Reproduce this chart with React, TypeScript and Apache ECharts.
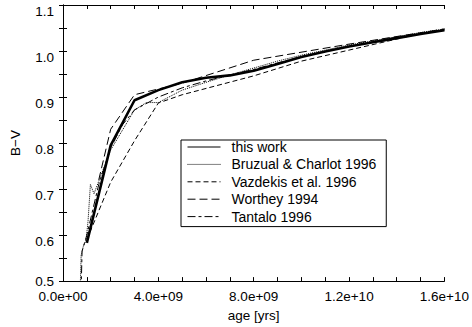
import React, { useEffect, useRef } from "react";
import * as echarts from "echarts";

// ages in Gyr, colours B-V
const thisWorkAge = [1, 2, 3, 4, 5, 6, 7, 8, 9, 10, 11, 12, 13, 14, 15, 16];
const thisWorkBV = [0.583, 0.795, 0.893, 0.915, 0.932, 0.942, 0.947, 0.957, 0.972, 0.987, 0.999, 1.01, 1.019, 1.028, 1.037, 1.045];

const bruzualAge = [0.72, 0.76, 0.85, 0.97, 1.05, 1.15, 1.3, 2, 3, 3.5, 4, 5, 6, 7, 8, 9, 10, 11, 12, 13, 14, 15, 16];
const bruzualBV = [0.48, 0.556, 0.575, 0.59, 0.63, 0.71, 0.69, 0.785, 0.872, 0.888, 0.888, 0.915, 0.932, 0.948, 0.963, 0.978, 0.991, 1.002, 1.013, 1.022, 1.031, 1.04, 1.048];

const vazdekisAge = [1, 2, 3, 4, 5, 8, 10, 12, 15, 16];
const vazdekisBV = [0.59, 0.715, 0.805, 0.887, 0.905, 0.946, 0.978, 1.002, 1.038, 1.045];

const wortheyAge = [1.5, 2, 3, 5, 8, 12, 16];
const wortheyBV = [0.72, 0.83, 0.905, 0.93, 0.98, 1.015, 1.048];

const tantaloAge = [0.76, 0.8, 1, 1.5, 2, 2.5, 3, 4, 5, 6, 7, 8, 10, 12, 14, 16];
const tantaloBV = [0.48, 0.565, 0.6, 0.71, 0.79, 0.84, 0.872, 0.9, 0.92, 0.935, 0.948, 0.96, 0.988, 1.01, 1.03, 1.047];

const seriesNames = ["this work", "Bruzual & Charlot 1996", "Vazdekis et al. 1996", "Worthey 1994", "Tantalo 1996"];

const xTicks = { min: 0, max: 1.6e10, interval: 4e9 };
const yTicks = { min: 0.5, max: 1.1, interval: 0.1 };

const FONT = "Liberation Sans";
const FS = 13.5;
const LFS = 14;

function pairs(age: number[], bv: number[]) {
  return age.map((a, i) => [a * 1e9, bv[i]]);
}

function expFmt(v: number) {
  const s = v.toExponential(1);
  const [m, e] = s.split("e");
  const sign = e[0] === "-" ? "-" : "+";
  const d = e.replace(/[+-]/, "").padStart(2, "0");
  return `${m}e${sign}${d}`;
}

export default function App() {
  const ref = useRef<HTMLDivElement>(null);
  useEffect(() => {
    if (!ref.current) return;
    const chart = echarts.init(ref.current, null, { renderer: "svg" });
    const axisLine = { show: true, lineStyle: { color: "#000", width: 1 } };
    const tick = { show: true, inside: true, length: 4, lineStyle: { color: "#000", width: 1 } };
    const xMinor = { show: true, splitNumber: 4, length: 4, lineStyle: { color: "#000", width: 1 } };
    const yMinor = { show: true, splitNumber: 2, length: 4, lineStyle: { color: "#000", width: 1 } };
    const mk = (name: string, data: number[][], type: any, width: number) => ({
      name,
      type: "line",
      data,
      symbol: "none",
      showSymbol: false,
      xAxisIndex: 0,
      yAxisIndex: 0,
      clip: true,
      lineStyle: { color: "#000", width, type },
      itemStyle: { color: "#000" },
      z: width > 1 ? 5 : 3,
    });
    chart.setOption({
      animation: false,
      backgroundColor: "#fff",
      textStyle: { fontFamily: FONT },
      grid: { left: 49, right: 25, top: 5, bottom: 40, show: false },
      xAxis: [
        {
          type: "value",
          position: "bottom",
          ...xTicks,
          axisLine,
          axisTick: tick,
          minorTick: xMinor,
          splitLine: { show: false },
          axisLabel: { color: "#000", fontFamily: FONT, fontSize: FS, margin: 8, formatter: (v: number) => expFmt(v) },
          name: "age [yrs]",
          nameLocation: "middle",
          nameGap: 12,
          nameTextStyle: { color: "#000", fontFamily: FONT, fontSize: FS },
        },
        {
          type: "value",
          position: "top",
          ...xTicks,
          axisLine,
          axisTick: tick,
          minorTick: xMinor,
          splitLine: { show: false },
          axisLabel: { show: false },
        },
      ],
      yAxis: [
        {
          type: "value",
          position: "left",
          ...yTicks,
          axisLine,
          axisTick: tick,
          minorTick: yMinor,
          splitLine: { show: false },
          axisLabel: {
            color: "#000",
            fontFamily: FONT,
            fontSize: FS,
            margin: 9,
            formatter: (v: number) => {
              const s = v.toFixed(1);
              return Math.abs(v - 0.5) < 1e-6 ? `{c|${s}}` : `{d|${s}}`;
            },
            rich: {
              c: { color: "#000", fontFamily: FONT, fontSize: FS },
              d: { color: "#000", fontFamily: FONT, fontSize: FS, padding: [13, 0, 0, 0] },
            },
          },
          name: "B−V",
          nameLocation: "middle",
          nameRotate: 90,
          nameGap: 41,
          nameTextStyle: { color: "#000", fontFamily: FONT, fontSize: FS },
        },
        {
          type: "value",
          position: "right",
          ...yTicks,
          axisLine,
          axisTick: tick,
          minorTick: yMinor,
          splitLine: { show: false },
          axisLabel: { show: false },
        },
      ],
      legend: {
        orient: "vertical",
        left: 181,
        top: 140,
        itemWidth: 33,
        itemHeight: 12,
        itemGap: 3.4,
        padding: [0, 10, 3, 6],
        borderColor: "#000",
        borderWidth: 1,
        borderRadius: 0,
        backgroundColor: "#fff",
        itemStyle: { color: "transparent", borderColor: "transparent", borderWidth: 0, opacity: 0 },
        lineStyle: { width: 1, color: "#000" },
        textStyle: { color: "#000", fontFamily: FONT, fontSize: LFS, padding: [0, 0, 0, 6] },
        data: seriesNames.map((n) => ({ name: n })),
      },
      series: [
        mk(seriesNames[1], pairs(bruzualAge, bruzualBV), [1, 1], 1),
        mk(seriesNames[2], pairs(vazdekisAge, vazdekisBV), [5, 3], 1),
        mk(seriesNames[3], pairs(wortheyAge, wortheyBV), [8, 4], 1),
        mk(seriesNames[4], pairs(tantaloAge, tantaloBV), [8, 3, 3, 3], 1),
        mk(seriesNames[0], pairs(thisWorkAge, thisWorkBV), "solid", 2.6),
      ],
    });
    return () => chart.dispose();
  }, []);
  return (
    <div
      ref={ref}
      style={{ position: "fixed", left: 0, top: 0, width: 472, height: 327, background: "#fff" }}
    />
  );
}
